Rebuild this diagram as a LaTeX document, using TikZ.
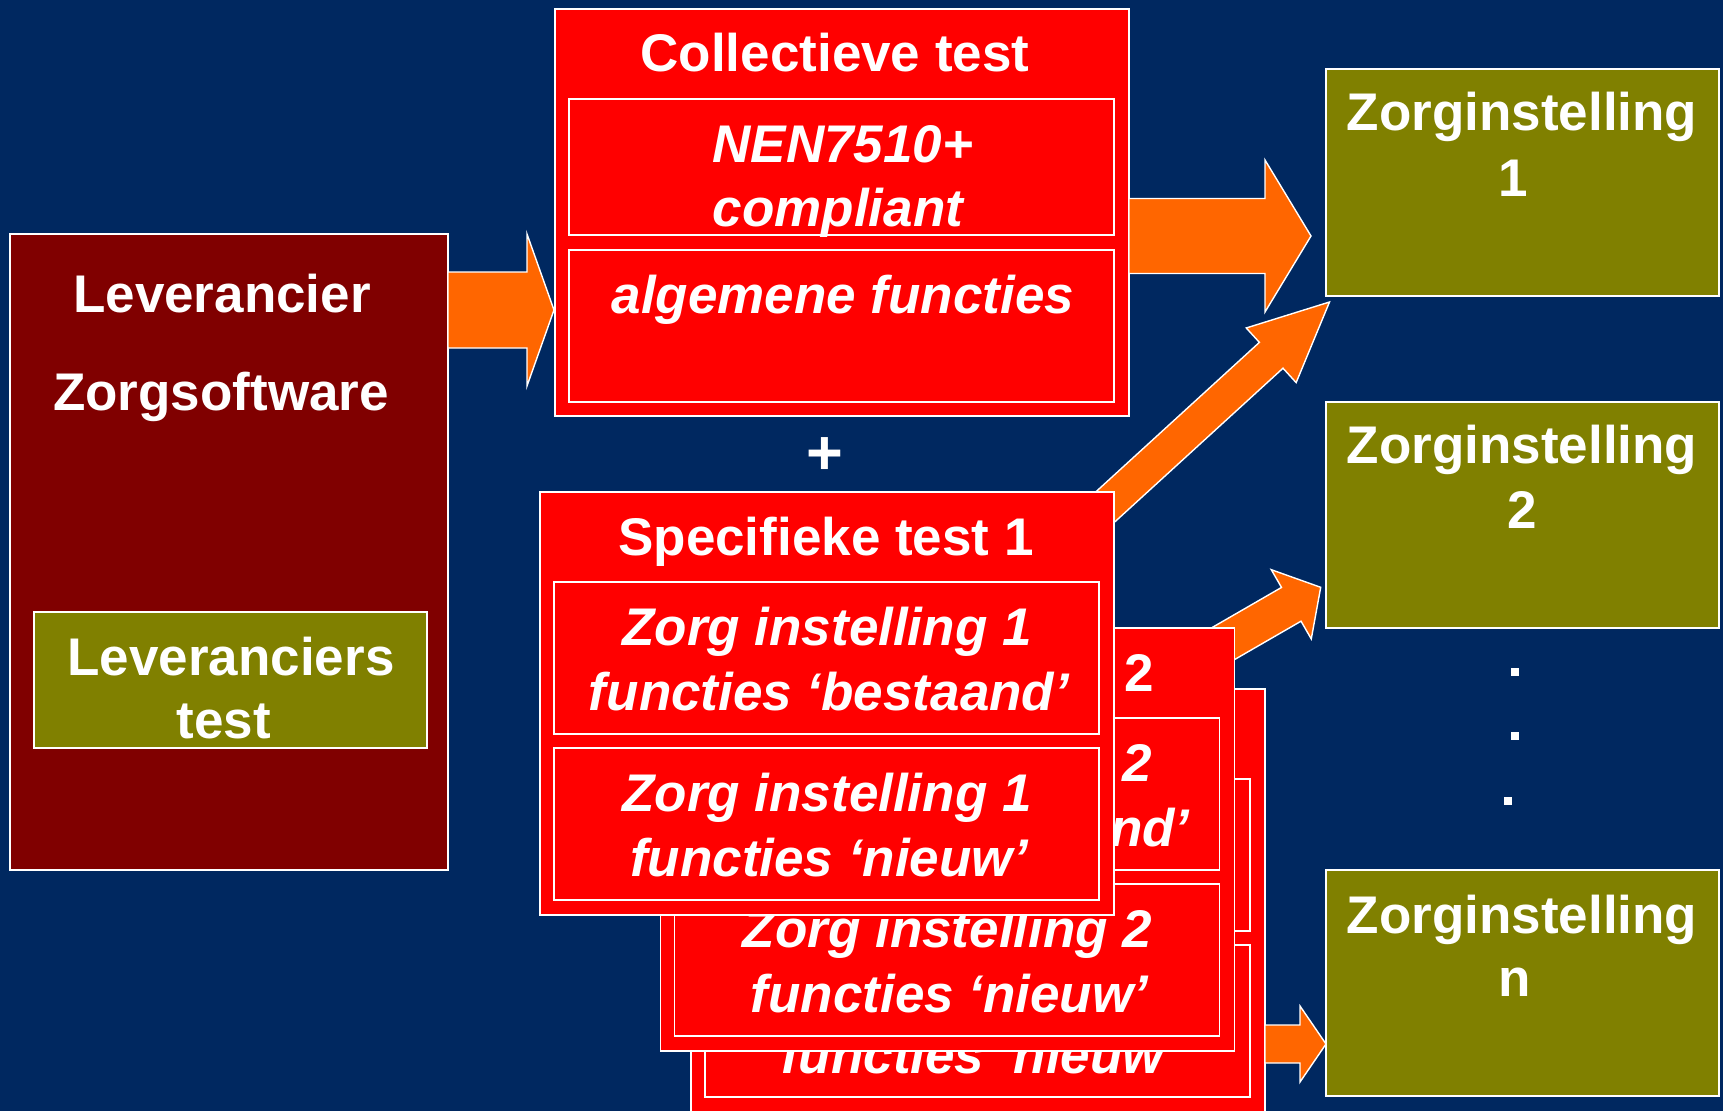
\documentclass[tikz,border=0pt]{standalone}
\usepackage{fontspec}
\setmainfont{Liberation Sans}
\usetikzlibrary{calc}
\definecolor{bgnavy}{RGB}{0,40,96}
\definecolor{darkredbox}{RGB}{128,0,0}
\definecolor{redbox}{RGB}{255,0,0}
\definecolor{olivebox}{RGB}{128,128,0}
\definecolor{arroworange}{RGB}{255,102,0}
% tail, tip, shaft half width, head half width, head length
\newcommand\blockarrow[5]{%
  \coordinate (ba-base) at ($(#2)!#5!(#1)$);
  \filldraw[fatarrow] ($(#1)!#3!90:(#2)$) -- ($(ba-base)!#3!90:(#2)$) -- ($(ba-base)!#4!90:(#2)$) -- (#2)
    -- ($(ba-base)!#4!-90:(#2)$) -- ($(ba-base)!#3!-90:(#2)$) -- ($(#1)!#3!-90:(#2)$) -- cycle;
}
\tikzset{
  boxbase/.style={draw=white, line width=1.6pt, anchor=north west, inner sep=0pt, outer sep=0pt},
  leverbox/.style={boxbase, fill=darkredbox},
  testbox/.style={boxbase, fill=redbox},
  zorgbox/.style={boxbase, fill=olivebox},
  fatarrow/.style={fill=arroworange, draw=white, line width=1.4pt, line join=miter},
  txt/.style={text=white, font=\fontsize{53}{64}\selectfont\bfseries, inner sep=0pt, anchor=base},
  itxt/.style={txt, font=\fontsize{53}{64}\selectfont\bfseries\itshape},
  dotsq/.style={fill=white, minimum size=8pt, inner sep=0pt},
}
\begin{document}
\begin{tikzpicture}[x=1pt, y=-1pt]
\useasboundingbox (0,0) rectangle (1723,1111);
\fill[bgnavy] (0,0) rectangle (1723,1111);

% Leverancier
\node[leverbox, minimum width=438pt, minimum height=636pt] (lev) at (10,234) {};
\node[txt] (lev-t1) at (222,312.6) {Leverancier};
\node[txt] (lev-t2) at (221,410.3) {Zorgsoftware};
\node[zorgbox, minimum width=393pt, minimum height=136pt] (levtest) at (34,612) {};
\node[txt] (levtest-t1) at (231,675.4) {Leveranciers};
\node[txt] (levtest-t2) at (224,738.9) {test};

% arrow leverancier -> collectieve
\coordinate (a0tail) at (448,310);
\coordinate (a0tip) at (554,310);
\blockarrow{a0tail}{a0tip}{38pt}{76pt}{27pt}

% Collectieve test
\node[testbox, minimum width=574pt, minimum height=407pt] (coll) at (555,9) {};
\node[txt] (coll-t) at (835,71.7) {Collectieve test};
\node[testbox, minimum width=545pt, minimum height=136pt] (nen) at (569,99) {};
\node[itxt] (nen-t1) at (843,162.7) {NEN7510+};
\node[itxt] (nen-t2) at (838,226.7) {compliant};
\node[testbox, minimum width=545pt, minimum height=152pt] (alg) at (569,250) {};
\node[itxt] (alg-t) at (843,313.3) {algemene functies};

\node[txt, font=\fontsize{63}{70}\selectfont\bfseries] (plus) at (825,474) {+};

% arrow collectieve -> zorg 1
\coordinate (a1tail) at (1129,236);
\coordinate (a1tip) at (1311,236);
\blockarrow{a1tail}{a1tip}{37.5pt}{76pt}{46pt}

% Zorginstellingen
\node[zorgbox, minimum width=393pt, minimum height=227pt] (z1) at (1326,69) {};
\node[txt] (z1-t1) at (1522,130.4) {Zorginstelling};
\node[txt] (z1-t2) at (1513,196) {1};
\node[zorgbox, minimum width=393pt, minimum height=226pt] (z2) at (1326,402) {};
\node[txt] (z2-t1) at (1522,463.4) {Zorginstelling};
\node[txt] (z2-t2) at (1522,528.2) {2};
\node[zorgbox, minimum width=393pt, minimum height=226pt] (zn) at (1326,870) {};
\node[txt] (zn-t1) at (1522,933.2) {Zorginstelling};
\node[txt] (zn-t2) at (1515,996.4) {n};

\node[dotsq] (dot1) at (1515,672) {};
\node[dotsq] (dot2) at (1515,736) {};
\node[dotsq] (dot3) at (1508,801) {};

% back specific test box
\begin{scope}[shift={(151,197)}]
\node[testbox, minimum width=574pt, minimum height=423pt] (s3) at (540,492) {};
\node[testbox, minimum width=545pt, minimum height=152pt] (s3a) at (554,582) {};
\node[testbox, minimum width=545pt, minimum height=152pt] (s3b) at (554,748) {};
\node[itxt] (s3b-t2) at (829,876) {functies ‘nieuw’};
\end{scope}

% arrow to zorg n
\coordinate (antail) at (1265,1044);
\coordinate (antip) at (1326,1044);
\blockarrow{antail}{antip}{19pt}{38pt}{26pt}

% arrow to zorg 2 (behind middle box)
\coordinate (a2tail) at (1161.4,679.3);
\coordinate (a2tip) at (1320.7,587.3);
\blockarrow{a2tail}{a2tip}{19.5pt}{40pt}{34pt}

% middle specific test box
\begin{scope}[shift={(120.5,136)}]
\node[testbox, minimum width=574pt, minimum height=423pt] (s2) at (540,492) {};
\node[txt] (s2-t) at (826,555) {Specifieke test 2};
\node[testbox, minimum width=545pt, minimum height=152pt] (s2a) at (554,582) {};
\node[itxt] (s2a-t1) at (827,645) {Zorg instelling 2};
\node[itxt] (s2a-t2) at (829,710) {functies ‘bestaand’};
\node[testbox, minimum width=545pt, minimum height=152pt] (s2b) at (554,748) {};
\node[itxt] (s2b-t1) at (827,811) {Zorg instelling 2};
\node[itxt] (s2b-t2) at (829,876) {functies ‘nieuw’};
\end{scope}

% arrow to zorg 1 (behind front box)
\coordinate (a3tail) at (1050,557.4);
\coordinate (a3tip) at (1329.5,302);
\blockarrow{a3tail}{a3tip}{17.5pt}{37pt}{79pt}

% front specific test box
\node[testbox, minimum width=574pt, minimum height=423pt] (s1) at (540,492) {};
\node[txt] (s1-t) at (826,555) {Specifieke test 1};
\node[testbox, minimum width=545pt, minimum height=152pt] (s1a) at (554,582) {};
\node[itxt] (s1a-t1) at (827,645) {Zorg instelling 1};
\node[itxt] (s1a-t2) at (829,710) {functies ‘bestaand’};
\node[testbox, minimum width=545pt, minimum height=152pt] (s1b) at (554,748) {};
\node[itxt] (s1b-t1) at (827,811) {Zorg instelling 1};
\node[itxt] (s1b-t2) at (829,876) {functies ‘nieuw’};
\end{tikzpicture}
\end{document}
